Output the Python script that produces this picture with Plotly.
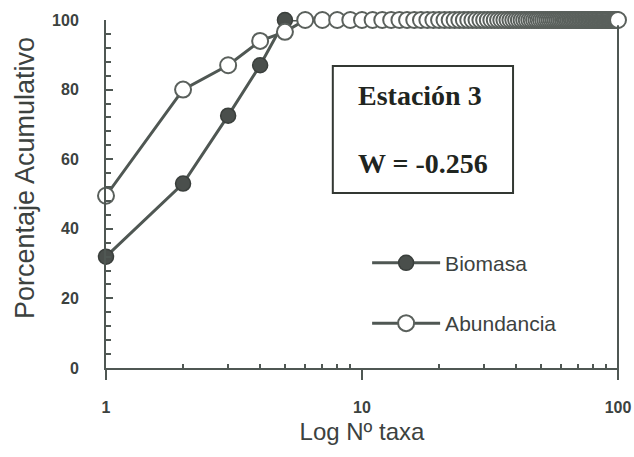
import plotly.graph_objects as go

# Number of taxa (log x axis)
taxa = list(range(1, 101))

# Cumulative percentage (values beyond 5 taxa sit at 100)
biomasa = [32, 53, 72.5, 87, 100] + [100] * 95
abundancia = [49.5, 80, 87, 94, 96.6] + [100] * 95

y_ticks = [0, 20, 40, 60, 80, 100]
x_ticks = [1, 10, 100]
x_minor = [2, 3, 4, 5, 6, 7, 8, 9, 20, 30, 40, 50, 60, 70, 80, 90]

LINE = "#4f5753"
TXT = "#3c423f"

fig = go.Figure()
fig.add_trace(go.Scatter(
    x=taxa, y=biomasa, mode="lines+markers", name="Biomasa",
    legendgroup="b", cliponaxis=False,
    line=dict(color=LINE, width=3),
    marker=dict(symbol="circle", size=15, color="#4a4f4c",
                line=dict(color="#3a3f3c", width=1.5)),
))
fig.add_trace(go.Scatter(
    x=taxa, y=abundancia, mode="lines+markers", name="Abundancia",
    legendgroup="a", cliponaxis=False,
    line=dict(color=LINE, width=3),
    marker=dict(symbol="circle", size=16, color="white",
                line=dict(color="#5a605c", width=2)),
))

axis_font = dict(family="Liberation Sans, Arial, sans-serif", size=16,
                 color=TXT, weight="bold")

fig.update_layout(
    width=634, height=457,
    margin=dict(l=106, r=16, t=20, b=89, autoexpand=False),
    paper_bgcolor="white", plot_bgcolor="white",
    showlegend=True,
    legend=dict(x=0.51, y=0.36, xanchor="left", yanchor="top",
                font=dict(family="Liberation Sans, Arial, sans-serif",
                          size=21, color=TXT),
                tracegroupgap=30, itemwidth=68,
                bgcolor="rgba(0,0,0,0)"),
    xaxis=dict(
        type="log", range=[0, 2], automargin=False,
        tickvals=x_ticks, ticktext=[str(v) for v in x_ticks],
        ticks="outside", ticklen=10, tickwidth=2, tickcolor=LINE,
        showline=True, linecolor=LINE, linewidth=2,
        showgrid=False, zeroline=False,
        tickfont=axis_font, ticklabelstandoff=14,
        minor=dict(tickvals=x_minor, ticks="inside", ticklen=4,
                   tickwidth=1.5, tickcolor=LINE, showgrid=False),
        title=dict(text="Log Nº taxa", standoff=8,
                   font=dict(family="Liberation Sans, Arial, sans-serif",
                             size=24, color=TXT)),
    ),
    yaxis=dict(
        range=[0, 100], automargin=False,
        tickvals=y_ticks,
        ticks="inside", ticklen=7, tickwidth=2, tickcolor=LINE,
        showline=True, linecolor=LINE, linewidth=2,
        showgrid=False, zeroline=False,
        tickfont=axis_font, ticklabelstandoff=22,
        minor=dict(dtick=4, ticks="inside", ticklen=5,
                   tickwidth=1.5, tickcolor=LINE, showgrid=False),
    ),
    shapes=[
        dict(type="line", xref="paper", yref="paper",
             x0=1, x1=1, y0=-0.02, y1=0.985,
             line=dict(color=LINE, width=2)),
        dict(type="rect", xref="paper", yref="paper",
             x0=0.443, x1=0.795, y0=0.503, y1=0.868,
             line=dict(color="#333833", width=2), fillcolor="white",
             layer="below"),
    ],
    annotations=[
        dict(text="Porcentaje Acumulativo", textangle=-90,
             xref="paper", yref="paper", x=-0.158, y=0.546,
             xanchor="center", yanchor="middle", showarrow=False,
             font=dict(family="Liberation Sans, Arial, sans-serif",
                       size=27, color=TXT)),
        dict(text="<b>Estación 3</b>", xref="paper", yref="paper",
             x=0.613, y=0.784, xanchor="center", yanchor="middle",
             showarrow=False,
             font=dict(family="Liberation Serif, Times New Roman, serif",
                       size=28, color="#1f2520")),
        dict(text="<b>W = -0.256</b>", xref="paper", yref="paper",
             x=0.619, y=0.589, xanchor="center", yanchor="middle",
             showarrow=False,
             font=dict(family="Liberation Serif, Times New Roman, serif",
                       size=28, color="#1f2520")),
    ],
)

fig.write_html("out.html")
